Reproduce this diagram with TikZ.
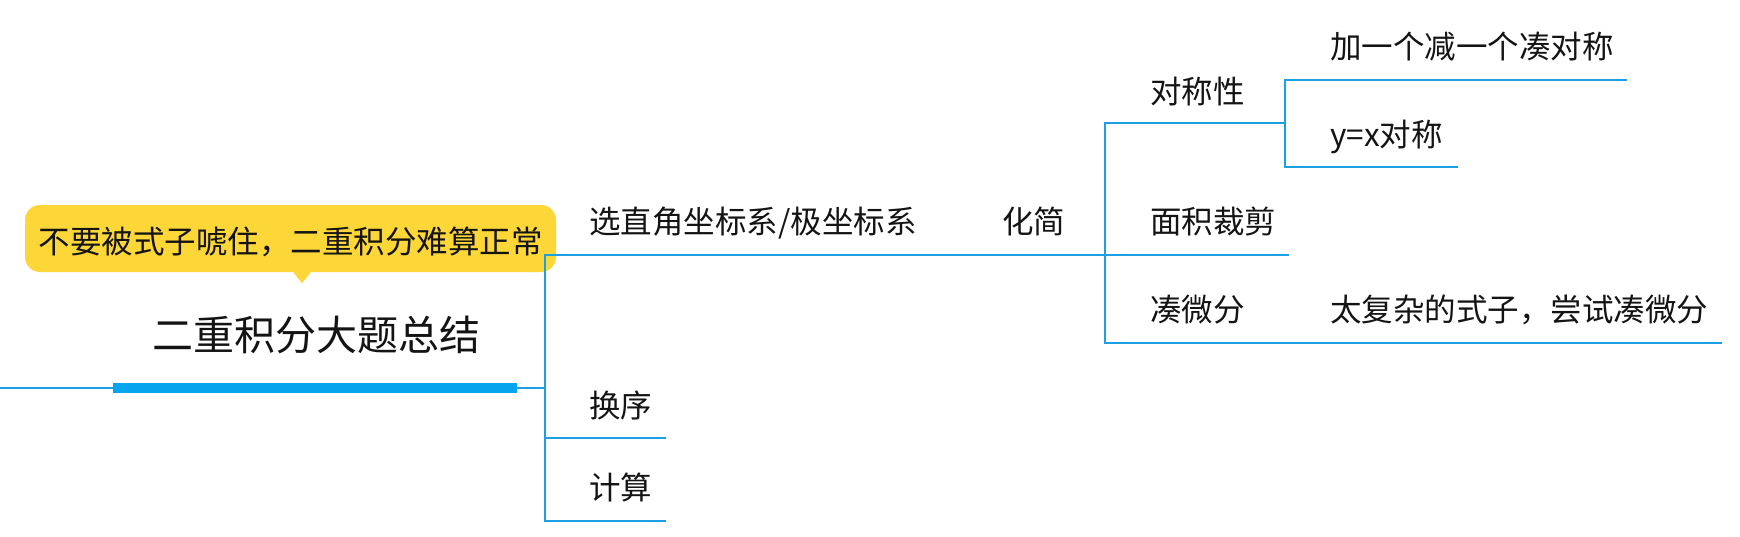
\documentclass[tikz,border=0pt]{standalone}
\usepackage{fontspec}
\setmainfont{Noto Sans CJK SC}
\definecolor{linkblue}{RGB}{28,160,228}
\definecolor{barblue}{RGB}{6,164,236}
\definecolor{calloutyellow}{RGB}{253,214,56}
\definecolor{txt}{RGB}{20,20,20}
\tikzset{
  conn/.style={draw=linkblue, line width=2.4pt},
  bar/.style={draw=barblue, line width=10pt},
  lbl/.style={anchor=west, inner sep=0pt, text=txt, font=\fontsize{31.5}{36}\selectfont, text height=0.88em, text depth=0.12em},
  calltext/.style={inner sep=0pt, text=txt, font=\fontsize{31.5}{36}\selectfont, text height=0.88em, text depth=0.12em},
  rootlbl/.style={inner sep=0pt, text=txt, font=\fontsize{41}{46}\selectfont, text height=0.88em, text depth=0.12em},
  callout/.style={fill=calloutyellow, rounded corners=15pt, minimum width=531pt, minimum height=67pt, inner sep=0pt}
}
\begin{document}
\begin{tikzpicture}[x=1pt,y=-1pt]
\useasboundingbox (0,0) rectangle (1740,536);
\fill[white] (0,0) rectangle (1740,536);

% callout
\node[callout] (call) at (290.5,238.5) {};
\fill[calloutyellow] ([xshift=2pt,yshift=1pt]call.south) -- ([xshift=21pt,yshift=1pt]call.south) -- ([xshift=11.5pt,yshift=-11pt]call.south) -- cycle;
\node[calltext] (calltxt) at (290.5,250) {不要被式子唬住，二重积分难算正常};

% root
\node[rootlbl] (root) at (316,347) {二重积分大题总结};
\coordinate (in) at (0,388);
\coordinate (rootL) at (113,388);
\coordinate (rootR) at (517,388);
\coordinate (j0) at (545,388);
\draw[conn] (in) -- (rootL);
\draw[bar] (rootL) -- (rootR);

% level 1
\node[lbl] (n1) at (589,230) {选直角坐标系/极坐标系};
\node[lbl] (n2) at (589,414) {换序};
\node[lbl] (n3) at (589,496) {计算};
\coordinate (u1) at (960,255);
\coordinate (u2) at (666,438);
\coordinate (u3) at (666,521);
\draw[conn] (rootR) -- (j0);
\draw[conn] (j0) |- (u1);
\draw[conn] (j0) |- (u2);
\draw[conn] (j0) |- (u3);

% level 2
\node[lbl] (m) at (1002,230) {化简};
\coordinate (j1) at (1105,255);
\draw[conn] (u1) -- (j1);

% level 3
\node[lbl] (s1) at (1150,100) {对称性};
\node[lbl] (s2) at (1150,230) {面积裁剪};
\node[lbl] (s3) at (1150,318) {凑微分};
\coordinate (j2) at (1285,123);
\coordinate (v2) at (1289,255);
\coordinate (v3) at (1290,343);
\draw[conn] (j1) |- (j2);
\draw[conn] (j1) -- (v2);
\draw[conn] (j1) |- (v3);

% level 4
\node[lbl] (t1) at (1330,55) {加一个减一个凑对称};
\node[lbl] (t2) at (1330,143) {y=x对称};
\node[lbl] (t3) at (1330,318) {太复杂的式子，尝试凑微分};
\coordinate (w1) at (1627,80);
\coordinate (w2) at (1458,167);
\coordinate (w3) at (1722,343);
\draw[conn] (j2) |- (w1);
\draw[conn] (j2) |- (w2);
\draw[conn] (v3) -- (w3);
\end{tikzpicture}
\end{document}
